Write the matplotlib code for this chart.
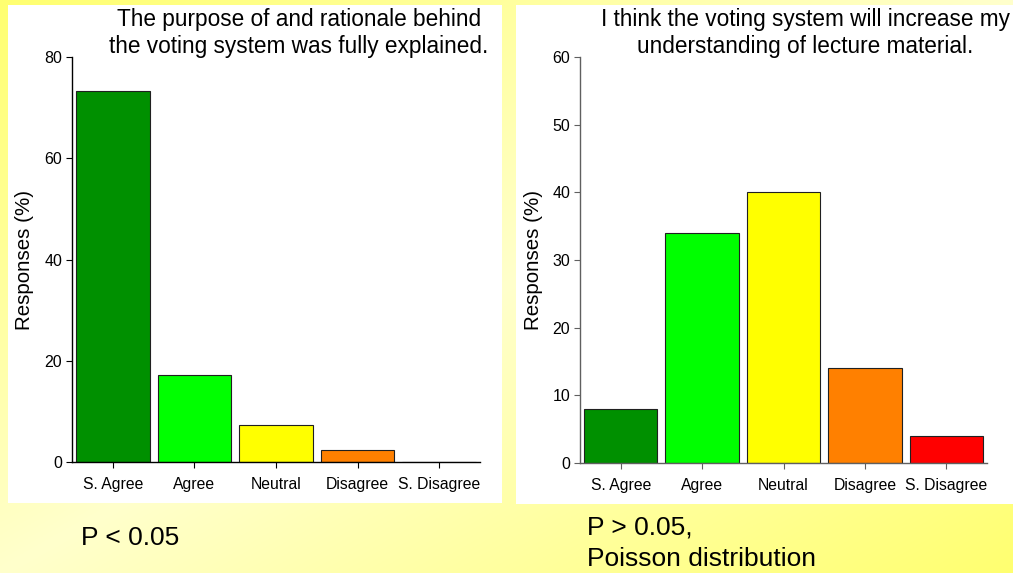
import numpy as np
import matplotlib
matplotlib.use("Agg")
import matplotlib.pyplot as plt
from matplotlib.patches import Rectangle
from matplotlib.colors import to_rgb

plt.rcParams["font.family"] = ["Liberation Sans", "DejaVu Sans"]

W, H, DPI = 1013, 573, 100

categories = ["S. Agree", "Agree", "Neutral", "Disagree", "S. Disagree"]
bar_colors = ["#009000", "#00ff00", "#ffff00", "#ff8000", "#ff0000"]

explained_pct = [73.3, 17.1, 7.3, 2.4, 0.0]
understanding_pct = [8, 34, 40, 14, 4]

explained_title = "The purpose of and rationale behind\nthe voting system was fully explained."
understanding_title = "I think the voting system will increase my\nunderstanding of lecture material."
explained_note = "P < 0.05"
understanding_note = "P > 0.05,\nPoisson distribution"


def px_rect(x0, y0, x1, y1):
    # pixel box (top-left origin) -> figure fraction [left, bottom, width, height]
    return [x0 / W, 1 - y1 / H, (x1 - x0) / W, (y1 - y0) / H]


fig = plt.figure(figsize=(W / DPI, H / DPI), dpi=DPI)

# diagonal yellow background, lighter through the middle
bg = fig.add_axes([0, 0, 1, 1], zorder=-10)
gx, gy = np.meshgrid(np.linspace(0, 1, 400), np.linspace(0, 1, 240))
t = np.abs((gx + gy) / 2 - 0.5) * 2          # 0 in the middle band, 1 at corners
edge = np.array(to_rgb("#ffff70"))
mid = np.array(to_rgb("#ffffcc"))
img = mid + (edge - mid) * t[..., None]
bg.imshow(img, aspect="auto", extent=[0, 1, 0, 1], origin="upper")
bg.set_axis_off()

# white panels behind each chart
for box in [(8, 5, 502, 503), (516, 5, 1013, 504)]:
    l, b, w, h = px_rect(*box)
    fig.patches.append(Rectangle((l, b), w, h, transform=fig.transFigure,
                                 facecolor="white", edgecolor="none", zorder=-5))


def draw_panel(rect, values, ymax, ystep, spine_col, label_right,
               title, title_x, note, note_xy):
    ax = fig.add_axes(px_rect(*rect))
    x = np.arange(len(categories))
    ax.bar(x, values, width=0.9, color=bar_colors, edgecolor="#202020", linewidth=0.8)
    ax.set_xlim(-0.5, len(categories) - 0.5)
    ax.set_ylim(0, ymax)
    ax.set_yticks(np.arange(0, ymax + 1, ystep))
    ax.set_xticks(x)
    ax.set_xticklabels(categories, fontsize=11.3)
    ax.tick_params(axis="y", labelsize=11.5, direction="out", length=4,
                   color=spine_col, pad=3)
    ax.tick_params(axis="x", direction="out", length=4, color=spine_col, pad=7)
    for side in ("top", "right"):
        ax.spines[side].set_visible(False)
    for side in ("left", "bottom"):
        ax.spines[side].set_color(spine_col)
        ax.spines[side].set_linewidth(1.0)
    ax.set_facecolor("none")
    ax.set_ylabel("Responses (%)", fontsize=14.8)
    # right edge of the rotated label, in axes fraction
    ax.yaxis.set_label_coords((label_right - rect[0]) / (rect[2] - rect[0]), 0.5)
    fig.text(title_x / W, 1 - 8 / H, title, ha="center", va="top",
             fontsize=16.3, linespacing=1.2)
    fig.text(note_xy[0] / W, 1 - note_xy[1] / H, note, ha="left", va="top",
             fontsize=19, linespacing=1.36)
    return ax


draw_panel((72, 57, 480, 462), explained_pct, 80, 20, "black", 34,
           explained_title, 299, explained_note, (81, 526))
draw_panel((580, 57, 987, 463), understanding_pct, 60, 10, "#606060", 543,
           understanding_title, 805, understanding_note, (587, 516))

fig.savefig("out.png", dpi=DPI)
